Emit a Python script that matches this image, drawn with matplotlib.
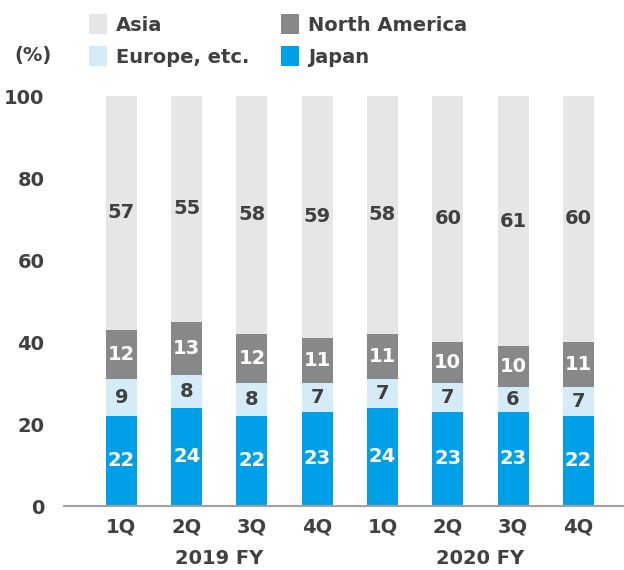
import matplotlib
matplotlib.use("Agg")
import matplotlib.pyplot as plt
import numpy as np

quarters = ["1Q", "2Q", "3Q", "4Q", "1Q", "2Q", "3Q", "4Q"]
fiscal_years = ["2019 FY", "2020 FY"]
japan = [22, 24, 22, 23, 24, 23, 23, 22]
europe = [9, 8, 8, 7, 7, 7, 6, 7]
north_america = [12, 13, 12, 11, 11, 10, 10, 11]
asia = [57, 55, 58, 59, 58, 60, 61, 60]
yticks = [0, 20, 40, 60, 80, 100]

TXT = "#404040"
C_JP = "#00A0E9"
C_EU = "#D5EBF8"
C_NA = "#87888A"
C_AS = "#E6E6E6"

plt.rcParams["font.family"] = ["DejaVu Sans"]
plt.rcParams["font.weight"] = "bold"
FS = 14

fig = plt.figure(figsize=(6.24, 5.70), dpi=100)
ax = fig.add_axes([64/624, 1-506/570, 1-64/624, 410/570])

x = np.arange(len(quarters))
w = 0.475
series = [(japan, C_JP, "Japan", "white"),
          (europe, C_EU, "Europe, etc.", TXT),
          (north_america, C_NA, "North America", "white"),
          (asia, C_AS, "Asia", TXT)]
bottom = np.zeros(len(quarters))
handles = {}
for vals, col, name, tcol in series:
    v = np.array(vals, dtype=float)
    bars = ax.bar(x, v, w, bottom=bottom, color=col, label=name, zorder=2)
    handles[name] = bars
    for xi, b, vi in zip(x, bottom, v):
        ax.text(xi, b + vi/2, f"{int(vi)}", ha="center", va="center",
                color=tcol, fontsize=FS, fontweight="bold", zorder=3)
    bottom += v

ax.set_xlim(-0.88, 7.7)
ax.set_ylim(0, 100)
ax.set_yticks(yticks)
ax.set_yticklabels([str(t) for t in yticks])
ax.set_xticks(x)
ax.set_xticklabels(quarters)
ax.tick_params(axis="both", length=0, labelsize=FS, labelcolor=TXT)
ax.tick_params(axis="x", pad=8)
ax.tick_params(axis="y", pad=14)
for s in ["top", "right", "left"]:
    ax.spines[s].set_visible(False)
ax.spines["bottom"].set_color("#A0A0A0")
ax.spines["bottom"].set_linewidth(1.5)

for i, fy in enumerate(fiscal_years):
    ax.text(1.5 + 4*i, -12.8, fy, ha="center", va="center", fontsize=FS,
            fontweight="bold", color=TXT, transform=ax.transData, clip_on=False)

fig.text(33/624, 1-55/570, "(%)", ha="center", va="center", fontsize=FS,
         fontweight="bold", color=TXT)

order = ["Asia", "Europe, etc.", "North America", "Japan"]
leg = fig.legend([handles[n] for n in order], order, ncol=2,
                 loc="upper left", bbox_to_anchor=(89/624, 1-14/570),
                 borderaxespad=0, borderpad=0,
                 frameon=False, fontsize=FS, handlelength=0.95, handleheight=1.2,
                 handletextpad=0.45, labelspacing=0.6, columnspacing=1.6)
for t in leg.get_texts():
    t.set_color(TXT)
    t.set_fontweight("bold")

fig.savefig("out.png", dpi=100)
